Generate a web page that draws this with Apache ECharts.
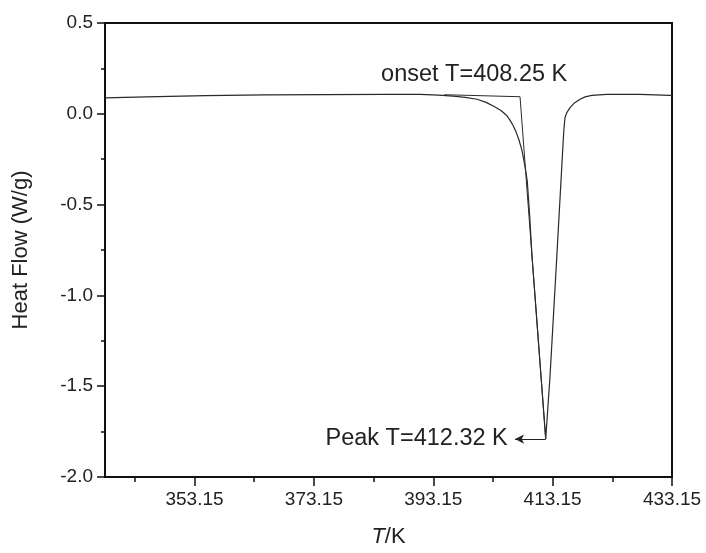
<!DOCTYPE html>
<html><head><meta charset="utf-8">
<script src="https://cdn.jsdelivr.net/npm/echarts@6/dist/echarts.min.js"></script>
<style>html,body{margin:0;padding:0;background:#fff}#c{width:706px;height:553px}</style>
</head><body><div id="c"></div>
<script>
// DSC curve: temperature (K) and heat flow (W/g)
const temperature = [338.15, 345, 355, 365, 375, 385, 391, 394, 396.5, 398.5, 400.5, 402, 403.2, 404.5, 405.5, 406.0, 406.5, 407.0, 407.5, 408.0, 408.5, 408.9, 409.3, 409.7, 410.3, 411.0, 411.5, 411.99, 412.71, 413.84, 414.94, 415.05, 415.23, 415.5, 416.07, 416.8, 417.74, 418.6, 419.7, 422.22, 427.79, 432.81, 433.15];
const heatFlow    = [0.088, 0.093, 0.100, 0.104, 0.106, 0.107, 0.107, 0.103, 0.097, 0.090, 0.080, 0.063, 0.043, 0.018, -0.011, -0.035, -0.063, -0.098, -0.143, -0.200, -0.285, -0.370, -0.560, -0.786, -1.049, -1.356, -1.575, -1.791, -1.446, -0.792, -0.138, -0.08, -0.02, 0.005, 0.034, 0.060, 0.080, 0.093, 0.101, 0.107, 0.107, 0.101, 0.100];
// onset construction lines (baseline extension, then line to the peak)
const tangentT  = [395, 407.69, 411.99];
const tangentHF = [0.105, 0.094, -1.791];
// arrow from peak towards its label
const arrowT  = [411.99, 406.85];
const arrowHF = [-1.791, -1.791];
// axis ticks
const xTicks = [353.15, 373.15, 393.15, 413.15, 433.15];
const xMinorTicks = [343.15, 363.15, 383.15, 403.15, 423.15];
const onsetLabel = 'onset T=408.25 K';
const peakLabel = 'Peak T=412.32 K';

const FONT = 'Liberation Sans, Arial, sans-serif';
const chart = echarts.init(document.getElementById('c'), null, {renderer: 'canvas'});
const curve = temperature.map((t, i) => [t, heatFlow[i]]);
const tangent = tangentT.map((t, i) => [t, tangentHF[i]]);

chart.setOption({
  animation: false,
  backgroundColor: '#fff',
  grid: {left: 105, right: 34, top: 23, bottom: 71, show: true, borderColor: '#111', borderWidth: 2},
  xAxis: [{
    type: 'value', min: 338.15, max: 433.15, position: 'bottom',
    axisLine: {onZero: false, lineStyle: {color: '#111', width: 2}},
    axisTick: {customValues: xTicks, length: 9, lineStyle: {color: '#111', width: 1.5}},
    axisLabel: {customValues: xTicks, formatter: v => v.toFixed(2), fontSize: 19, color: '#222', margin: 13, fontFamily: FONT},
    splitLine: {show: false},
    name: '{i|T}/K', nameLocation: 'middle', nameGap: 49,
    nameTextStyle: {fontSize: 22, color: '#222', fontFamily: FONT,
      rich: {i: {fontStyle: 'italic', fontSize: 22, color: '#222', fontFamily: FONT}}}
  }, {
    type: 'value', min: 338.15, max: 433.15, position: 'bottom', gridIndex: 0,
    axisLine: {show: false, onZero: false},
    axisTick: {customValues: xMinorTicks, length: 5, lineStyle: {color: '#111', width: 1.5}},
    axisLabel: {show: false},
    splitLine: {show: false}
  }],
  yAxis: {
    type: 'value', min: -2, max: 0.5, interval: 0.5,
    axisLine: {show: true, onZero: false, lineStyle: {color: '#111', width: 2}},
    axisTick: {show: true, length: 8, lineStyle: {color: '#111', width: 1.5}},
    minorTick: {show: true, splitNumber: 2, length: 4, lineStyle: {color: '#111', width: 1.5}},
    axisLabel: {formatter: v => v.toFixed(1), fontSize: 19, color: '#222', margin: 12, fontFamily: FONT},
    splitLine: {show: false}, minorSplitLine: {show: false},
    name: 'Heat Flow (W/g)', nameLocation: 'middle', nameGap: 73,
    nameTextStyle: {fontSize: 22, color: '#222', fontFamily: FONT}
  },
  series: [{
    type: 'line', data: curve, symbol: 'none', silent: true,
    lineStyle: {color: '#2a2a2a', width: 1.2}
  }, {
    type: 'line', data: tangent, symbol: 'none', silent: true,
    lineStyle: {color: '#2a2a2a', width: 1},
    markLine: {
      silent: true, symbol: ['none', 'arrow'], symbolSize: [7, 9],
      label: {show: false},
      lineStyle: {color: '#222', width: 1, type: 'solid'},
      data: [[{coord: [arrowT[0], arrowHF[0]]}, {coord: [arrowT[1], arrowHF[1]]}]]
    },
    markPoint: {
      silent: true, symbol: 'circle', symbolSize: 0,
      label: {fontSize: 23.5, color: '#222', fontFamily: FONT},
      data: [
        {coord: [400.0, 0.216], label: {formatter: onsetLabel, position: 'inside'}},
        {coord: [405.63, -1.79], label: {formatter: peakLabel, position: 'left', distance: 0}}
      ]
    }
  }]
});
</script>
</body></html>
